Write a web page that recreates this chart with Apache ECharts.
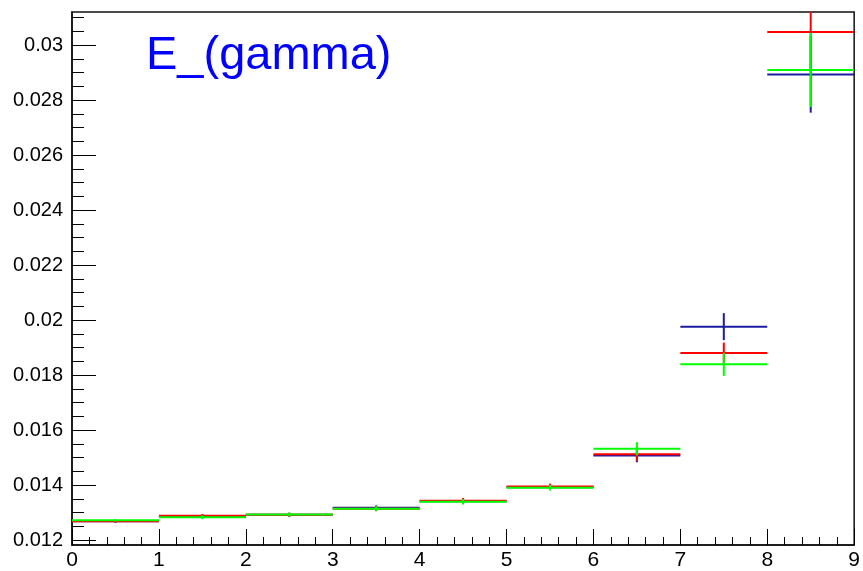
<!DOCTYPE html>
<html>
<head>
<meta charset="utf-8">
<script src="https://cdn.jsdelivr.net/npm/echarts@6/dist/echarts.min.js"></script>
<style>
  html, body { margin: 0; padding: 0; background: #fff; }
  #chart { width: 863px; height: 571px; }
</style>
</head>
<body>
<div id="chart"></div>
<script>
// Bin centres (unit-width bins from 0 to 9)
const binCenters = [0.5, 1.5, 2.5, 3.5, 4.5, 5.5, 6.5, 7.5, 8.5];

// Bin contents and their errors for the three histograms
const blueValues  = [0.01268, 0.01285, 0.01292, 0.01317, 0.01341, 0.01392, 0.01507, 0.01976, 0.02893];
const blueErrors  = [0.00005, 0.00007, 0.00007, 0.00009, 0.00010, 0.00010, 0.00024, 0.00049, 0.00139];
const redValues   = [0.01268, 0.01288, 0.01292, 0.01314, 0.01343, 0.01395, 0.01512, 0.01880, 0.03047];
const redErrors   = [0.00005, 0.00007, 0.00007, 0.00009, 0.00010, 0.00010, 0.00024, 0.00038, 0.00140];
const greenValues = [0.01272, 0.01283, 0.01293, 0.01314, 0.01339, 0.01390, 0.01532, 0.01839, 0.02909];
const greenErrors = [0.00005, 0.00007, 0.00007, 0.00009, 0.00010, 0.00010, 0.00024, 0.00042, 0.00135];

// Axis ticks
const xTickLabels = [0, 1, 2, 3, 4, 5, 6, 7, 8, 9];
const yTickLabels = [0.012, 0.014, 0.016, 0.018, 0.02, 0.022, 0.024, 0.026, 0.028, 0.03];
const yMinorTicks = [0.012, 0.0125, 0.013, 0.0135, 0.014, 0.0145, 0.015, 0.0155, 0.016, 0.0165,
                     0.017, 0.0175, 0.018, 0.0185, 0.019, 0.0195, 0.02, 0.0205, 0.021, 0.0215,
                     0.022, 0.0225, 0.023, 0.0235, 0.024, 0.0245, 0.025, 0.0255, 0.026, 0.0265,
                     0.027, 0.0275, 0.028, 0.0285, 0.029, 0.0295, 0.03, 0.0305, 0.031];

const Y_MIN = 0.01182, Y_MAX = 0.0312;
const FONT = '"Liberation Sans", Arial, Helvetica, sans-serif';

function histData(values, errors) {
  return binCenters.map((c, i) => [c, values[i], errors[i]]);
}

// Each bin: a horizontal bar across the bin width plus a vertical error bar
function makeHistSeries(name, values, errors, color) {
  return {
    name: name,
    type: 'custom',
    clip: true,
    data: histData(values, errors),
    renderItem: function (params, api) {
      const x = api.value(0), y = api.value(1), e = api.value(2);
      const pL = api.coord([x - 0.5, y]);
      const pR = api.coord([x + 0.5, y]);
      const pT = api.coord([x, y + e]);
      const pB = api.coord([x, y - e]);
      const style = { stroke: color, lineWidth: 2 };
      return {
        type: 'group',
        children: [
          { type: 'line', shape: { x1: pL[0], y1: pL[1], x2: pR[0], y2: pR[1] }, style: style },
          { type: 'line', shape: { x1: pT[0], y1: pT[1], x2: pB[0], y2: pB[1] }, style: style }
        ]
      };
    }
  };
}

const chart = echarts.init(document.getElementById('chart'), null, { renderer: 'canvas' });

chart.setOption({
  animation: false,
  backgroundColor: '#fff',
  grid: {
    left: 72, right: 7, top: 12, bottom: 26,
    show: true, borderColor: '#111', borderWidth: 1.5, backgroundColor: 'transparent'
  },
  xAxis: {
    type: 'value',
    min: 0, max: 9, interval: 1,
    axisLine: { show: true, lineStyle: { color: '#111', width: 1.5 } },
    axisTick: { show: true, inside: true, length: 16, lineStyle: { color: '#000' },
                customValues: xTickLabels },
    minorTick: { show: true, splitNumber: 5, length: 8, lineStyle: { color: '#000' } },
    axisLabel: { color: '#000', fontFamily: FONT, fontSize: 21, margin: 5,
                 customValues: xTickLabels },
    splitLine: { show: false }
  },
  yAxis: [
    {
      type: 'value',
      min: Y_MIN, max: Y_MAX,
      axisLine: { show: true, lineStyle: { color: '#111', width: 1.5 } },
      axisTick: { show: true, inside: true, length: 24, lineStyle: { color: '#000' },
                  customValues: yTickLabels },
      axisLabel: {
        color: '#000', fontFamily: FONT, fontSize: 20, margin: 9,
        customValues: yTickLabels,
        formatter: v => String(+v.toFixed(4))
      },
      splitLine: { show: false }
    },
    {
      type: 'value',
      min: Y_MIN, max: Y_MAX,
      position: 'left',
      axisLine: { show: false },
      axisTick: { show: true, inside: true, length: 12, lineStyle: { color: '#000' },
                  customValues: yMinorTicks },
      axisLabel: { show: false },
      splitLine: { show: false }
    }
  ],
  graphic: [
    {
      type: 'text',
      style: {
        text: 'E_(gamma)',
        x: 146, y: 56,
        verticalAlign: 'middle',
        font: '47px ' + FONT,
        fill: '#0000ff'
      },
      z: 10
    }
  ],
  series: [
    makeHistSeries('blue', blueValues, blueErrors, '#1c1ca0'),
    makeHistSeries('red', redValues, redErrors, '#ff0000'),
    makeHistSeries('green', greenValues, greenErrors, '#00ff00')
  ]
});
</script>
</body>
</html>
